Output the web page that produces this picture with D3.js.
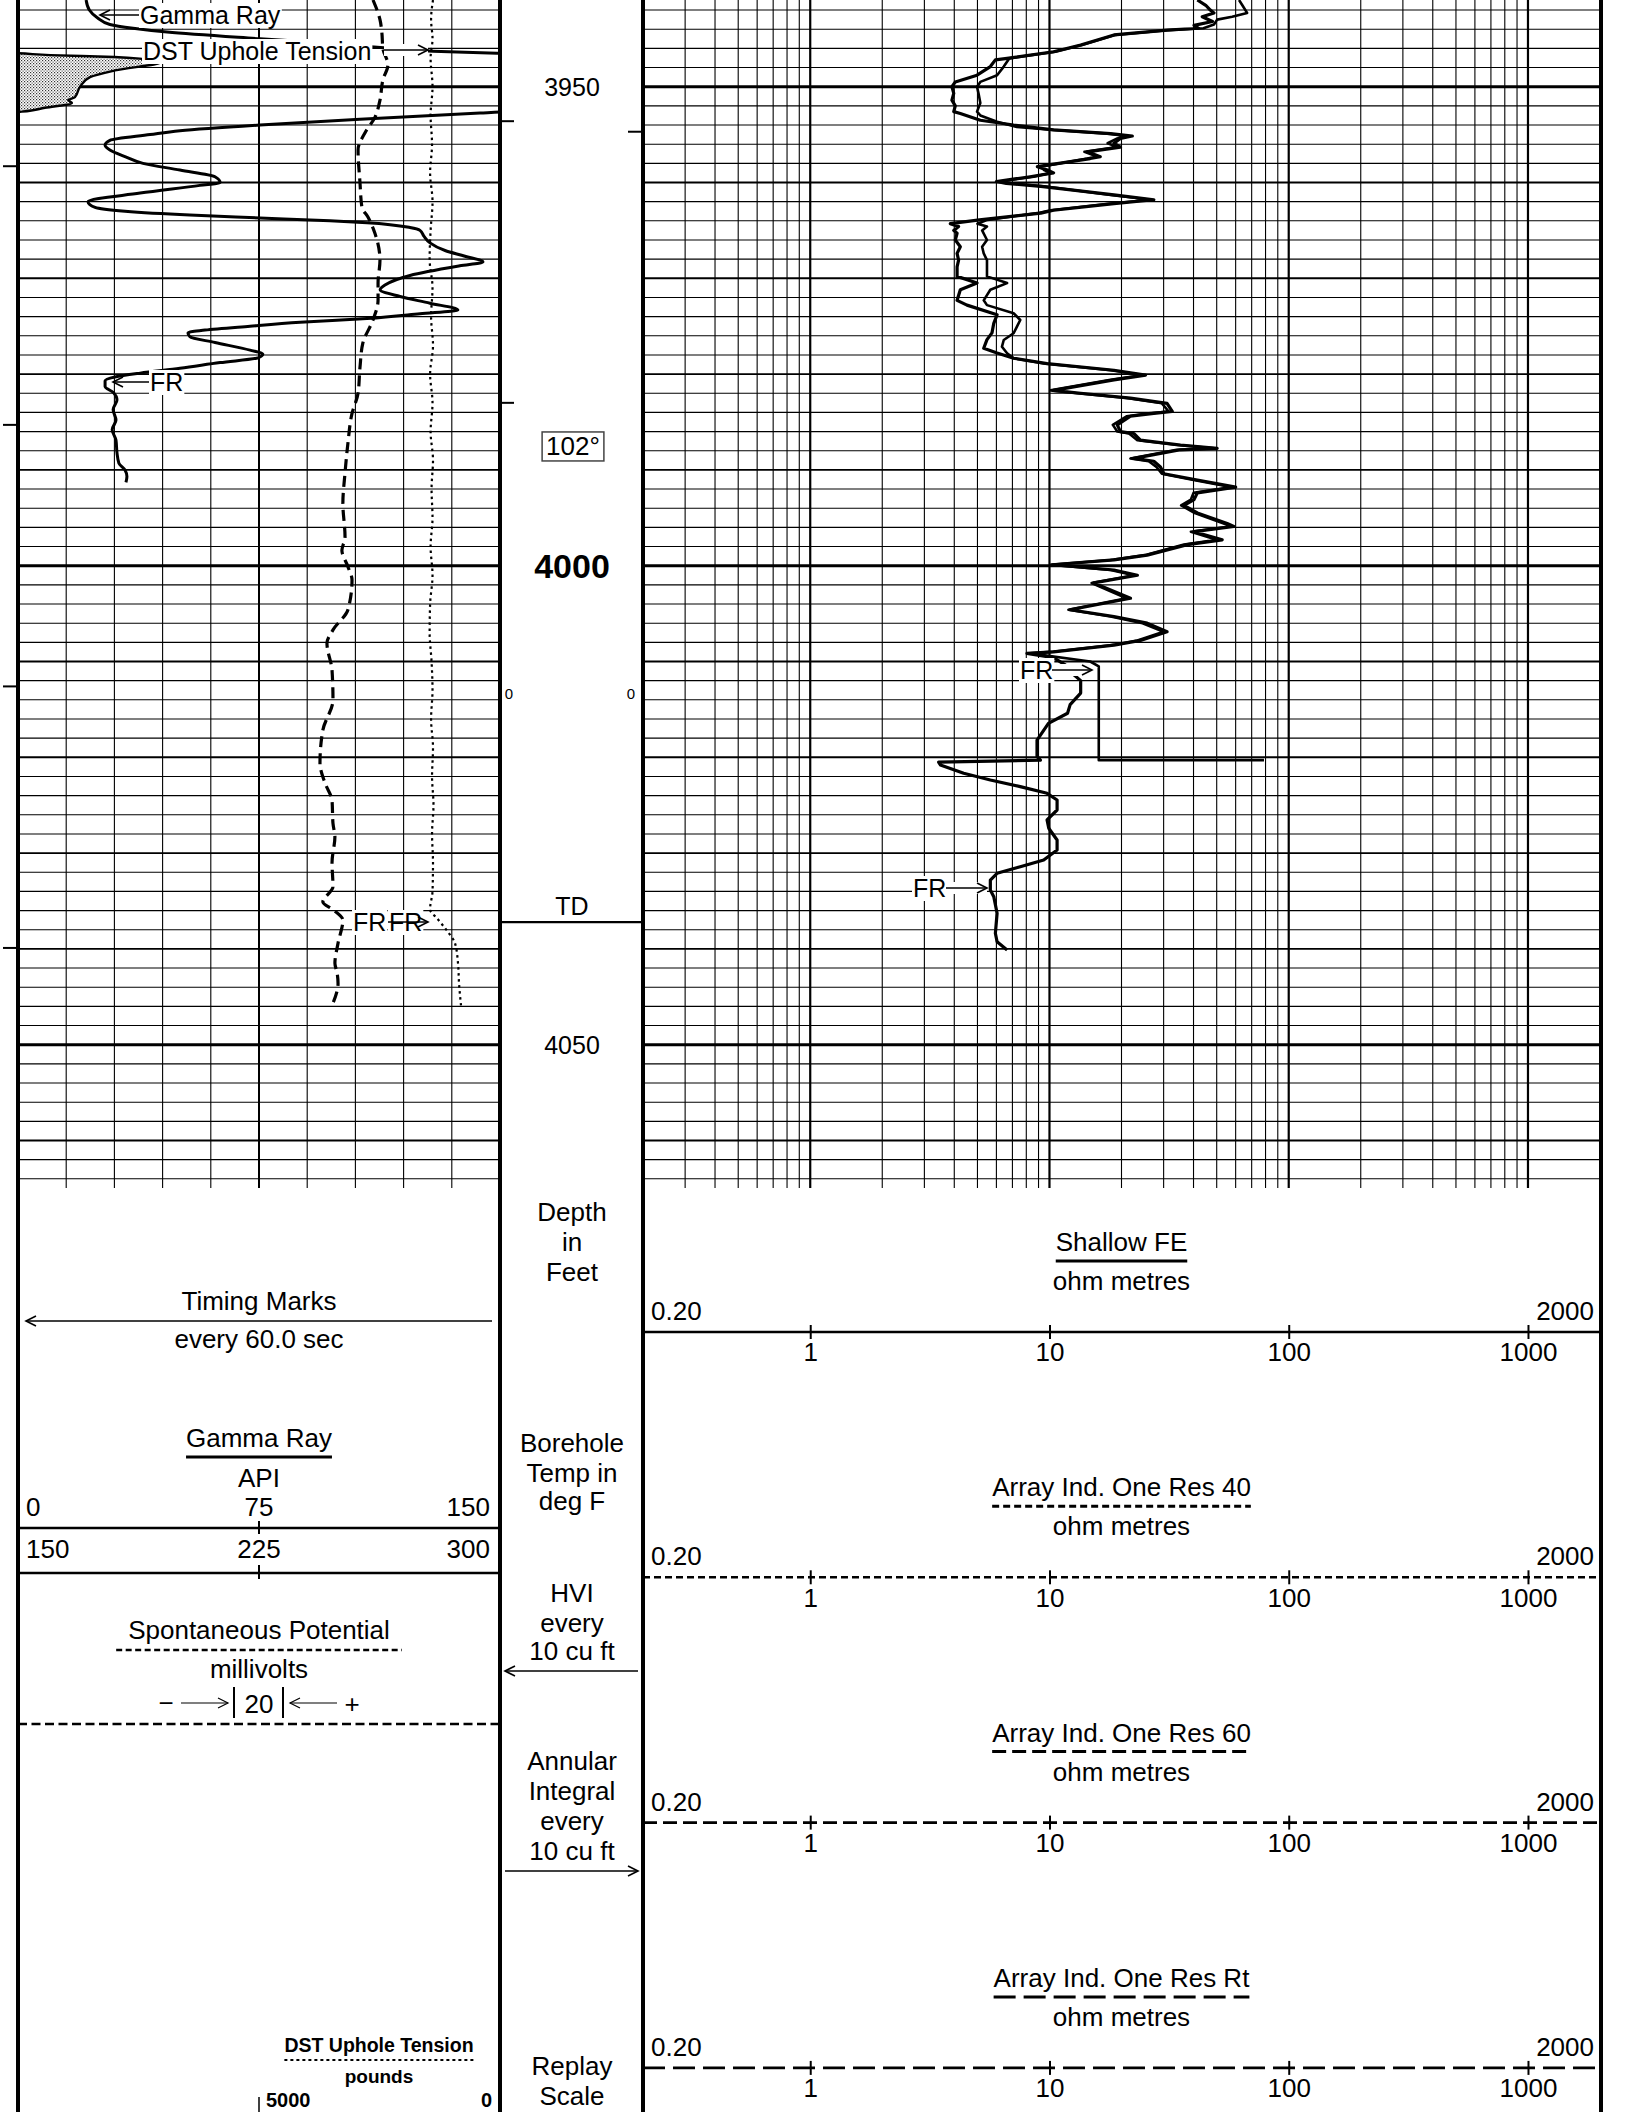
<!DOCTYPE html>
<html><head><meta charset="utf-8">
<script src="https://cdn.jsdelivr.net/npm/d3@7"></script>
<style>
body{margin:0;background:#fff}
svg{display:block}
text{font-family:"Liberation Sans",Arial,Helvetica,sans-serif;fill:#000}
</style>
</head><body>
<svg id="c" width="1627" height="2112"></svg>
<script>
// ---------------- DATA ----------------
// Gamma Ray [depth ft, API] (values >150 are drawn on the 150-300 backup scale)
const gammaRay = [[3940.95,21.2],[3942.0,22.2],[3942.8,24.7],[3943.5,28.6],[3943.9,35.8],[3944.3,46.4],[3945.0,75.3],[3945.5,98.0],[3945.96,114.8],[3946.3,129.2],[3946.5,149.1],[3946.7,160],[3946.9,180],[3947.1,188.9],[3947.4,194.8],[3948.3,180.2],[3949.0,172.4],[3950.0,169.3],[3951.1,167.7],[3951.4,165.6],[3951.7,166.8],[3952.2,158.4],[3952.6,151.2],[3952.75,143.8],[3953.4,106.4],[3954.0,75.3],[3954.6,50.4],[3955.0,41.1],[3955.6,28.6],[3956.1,27.1],[3956.6,28.6],[3957.3,33.3],[3958.0,38.9],[3958.7,50.4],[3959.4,61.3],[3960.0,62.9],[3960.3,56.6],[3961.1,38.0],[3962.0,21.8],[3962.6,24.0],[3963.0,33.3],[3963.4,53.5],[3963.7,75.3],[3964.0,97.1],[3964.2,108.6],[3964.7,122.0],[3965.0,125.1],[3965.6,126.3],[3966.3,128.2],[3967.1,132.9],[3967.7,139.1],[3968.3,144.7],[3968.7,137.5],[3969.7,122.0],[3970.7,114.2],[3971.2,112.7],[3971.9,118.9],[3972.6,128.2],[3973.3,136.9],[3973.7,125.1],[3974.2,108.6],[3974.6,87.8],[3975.0,72.2],[3975.4,58.2],[3975.7,52.9],[3976.1,53.5],[3976.7,61.3],[3977.5,72.2],[3977.9,76.2],[3978.3,74.7],[3978.8,62.9],[3979.4,50.4],[3979.9,38.0],[3980.3,30.2],[3980.7,27.1],[3981.3,27.1],[3981.9,29.6],[3982.7,30.8],[3983.7,29.6],[3984.8,30.5],[3985.8,29.3],[3986.9,30.5],[3988.2,30.8],[3989.3,31.4],[3990.0,33.3],[3990.7,33.9],[3991.3,33.6]];

// Spontaneous Potential [depth ft, mV]
const spontaneousPotential = [[3940.95,47.3],[3943.0,50.2],[3944.4,51.0],[3946.0,51.4],[3947.7,53.5],[3949.3,51.4],[3951.4,50.2],[3953.2,48.1],[3954.8,44.0],[3956.6,41.1],[3960.0,41.9],[3962.6,42.7],[3963.6,45.2],[3965.3,48.1],[3968.1,50.2],[3970.5,49.4],[3972.3,49.4],[3974.35,47.3],[3976.75,43.1],[3979.3,41.9],[3982.0,41.1],[3984.1,38.6],[3987.2,36.9],[3990.3,35.7],[3993.5,34.8],[3997.0,35.7],[3998.4,34.4],[4000.1,36.9],[4001.5,38.6],[4004.6,36.9],[4006.7,30.7],[4008.1,28.2],[4010.9,30.3],[4014.0,30.7],[4017.15,26.5],[4020.6,25.3],[4022.7,27.4],[4024.5,30.3],[4026.9,30.7],[4028.3,31.5],[4031.0,30.3],[4033.5,30.7],[4035.1,26.5],[4035.9,30.7],[4037.0,34.8],[4039.4,32.8],[4041.5,31.5],[4042.5,32.4],[4043.6,32.8],[4045.9,30.3]];

// DST Uphole Tension [depth ft, pounds]
const dstTension = [[3940.95,1390],[3943,1430],[3945,1400],[3947,1440],[3950,1400],[3953,1440],[3956,1410],[3959,1450],[3962,1400],[3965,1440],[3968,1460],[3971,1400],[3974,1430],[3977,1390],[3980,1450],[3983,1400],[3986,1440],[3989,1390],[3992,1420],[3995,1400],[3998,1440],[4001,1400],[4004,1450],[4007,1460],[4010,1420],[4013,1400],[4016,1430],[4019,1390],[4022,1410],[4025,1380],[4028,1410],[4031,1390],[4034,1400],[4035.9,1452],[4036.8,1307],[4038.1,1100],[4039.4,934],[4041.5,871],[4043.6,850],[4045.9,809]];

// Shallow FE [depth ft, ohm m]
const shallowFE = [[3940.95,41.5],[3941.5,45],[3942.0,47],[3942.3,48.7],[3942.7,43.5],[3943.2,48],[3943.6,40.2],[3943.9,42],[3944.1,31],[3944.6,18.6],[3945.65,13.5],[3946.35,10.4],[3947.04,6.65],[3947.2,5.94],[3947.9,5.66],[3948.8,4.98],[3949.5,4.04],[3950.0,3.91],[3950.7,3.98],[3951.4,3.91],[3952.0,4.04],[3952.6,3.98],[3952.8,4.24],[3953.5,5.14],[3954.0,7.08],[3954.5,10.4],[3954.9,18.0],[3955.15,22.2],[3955.4,19.8],[3955.9,18.6],[3956.3,19.8],[3956.8,14.4],[3957.3,16.3],[3957.5,14.8],[3958.35,8.9],[3958.7,9.8],[3959.0,10.4],[3959.4,8.3],[3959.9,6.0],[3960.1,6.6],[3960.4,9.2],[3961.3,18.6],[3961.8,27.3],[3962.2,18.6],[3962.9,10.4],[3963.2,9.2],[3963.9,5.1],[3964.3,3.85],[3964.6,4.17],[3965.0,3.98],[3965.3,4.11],[3966.0,4.04],[3966.7,4.24],[3967.4,4.11],[3968.1,4.17],[3968.8,4.11],[3969.8,4.11],[3970.5,4.98],[3971.2,4.24],[3972.3,4.11],[3972.8,4.52],[3973.8,6.04],[3974.7,5.85],[3975.7,5.75],[3976.4,5.48],[3977.3,5.31],[3977.8,6.04],[3978.35,7.08],[3978.9,9.77],[3979.6,18.6],[3980.1,25.2],[3980.6,18.6],[3981.7,10.4],[3982.0,13.5],[3982.5,21.8],[3983.05,31.0],[3983.9,32.6],[3984.1,27.3],[3984.4,21.8],[3985.3,19.2],[3986.0,19.8],[3986.2,22.5],[3986.9,24.0],[3987.4,35.3],[3987.75,50.2],[3987.9,35.3],[3988.8,22.5],[3989.1,27.3],[3989.7,29.1],[3990.4,30.1],[3991.05,41.5],[3991.8,60],[3992.4,41.5],[3993.1,40.2],[3993.7,36.5],[3994.5,41.5],[3995.6,55.3],[3995.9,59],[3996.45,40.2],[3997.3,52.7],[3997.8,37.7],[3998.9,25.6],[3999.4,18.6],[3999.9,10.25],[4000.45,18.6],[4001.0,23.3],[4001.8,15.3],[4003.4,21.8],[4004.6,12.2],[4005.3,18.6],[4006.0,25.6],[4006.9,31.0],[4007.8,24.0],[4008.3,18.6],[4009.0,10.4],[4009.15,8.05],[4009.6,10.4],[4010.5,11.9],[4011.2,12.4],[4012.0,13.5],[4013.3,13.5],[4014.5,12.2],[4015.4,11.9],[4016.45,9.9],[4018.2,8.87],[4019.9,8.87],[4020.3,9.16],[4020.5,3.44],[4020.8,3.5],[4021.67,4.38],[4022.37,5.66],[4023.06,7.55],[4023.76,9.77],[4024.46,10.76],[4025.5,10.76],[4026.54,9.77],[4027.41,9.93],[4028.63,10.76],[4029.68,10.76],[4030.72,9.46],[4031.42,7.55],[4032.11,6.04],[4032.81,5.66],[4033.85,5.66],[4034.55,5.85],[4036.28,6.04],[4038.37,5.94],[4039.25,6.04],[4040.11,6.65]];

// Array Induction One Res (40/60/Rt overlap) [depth ft, ohm m]
const arrayIndRes = [[3940.95,62],[3941.5,64],[3942.3,67],[3942.7,58],[3943.0,50.2],[3943.5,48.7],[3943.9,44],[3944.1,31],[3944.6,18.8],[3945.65,13.7],[3946.35,10.6],[3947.04,6.8],[3947.9,6.44],[3948.8,6.04],[3949.5,5.14],[3950.0,4.98],[3950.8,5.06],[3951.7,5.14],[3952.6,4.98],[3953.0,5.14],[3953.65,6.04],[3954.2,7.3],[3954.5,10.1],[3954.9,17.5],[3955.15,21.0],[3955.4,19.2],[3955.9,17.5],[3956.3,19.2],[3956.8,14.0],[3957.3,15.8],[3957.5,14.4],[3958.35,9.2],[3958.7,9.5],[3959.0,10.1],[3959.4,8.6],[3959.9,6.2],[3960.1,7.0],[3960.4,9.5],[3961.3,18.0],[3961.8,26.5],[3962.2,18.0],[3962.9,10.1],[3963.2,8.9],[3963.9,5.5],[3964.3,5.0],[3964.6,5.48],[3965.0,5.23],[3966.0,5.48],[3966.7,5.23],[3967.4,5.31],[3968.1,5.48],[3968.8,5.48],[3969.8,5.48],[3970.5,6.65],[3971.2,5.66],[3972.3,5.31],[3972.8,5.48],[3973.65,7.08],[3974.35,7.55],[3975.74,7.08],[3976.44,6.44],[3977.14,6.33],[3977.83,6.65],[3978.35,7.08],[3978.9,9.5],[3979.6,18.0],[3980.1,24.5],[3980.6,18.0],[3981.7,10.1],[3982.0,13.0],[3982.5,21.0],[3983.05,29.5],[3983.9,31.5],[3984.1,26.0],[3984.4,21.0],[3985.3,18.4],[3986.0,19.2],[3986.2,21.5],[3986.9,23.3],[3987.4,34.0],[3987.75,49.0],[3987.9,34.0],[3988.8,21.8],[3989.1,26.0],[3989.7,28.0],[3990.4,29.5],[3991.05,40.0],[3991.8,58.0],[3992.4,40.0],[3993.1,39.0],[3993.7,35.5],[3994.5,40.5],[3995.6,53.5],[3995.9,57.0],[3996.45,39.0],[3997.3,50.0],[3997.8,36.5],[3998.9,25.0],[3999.4,18.0],[3999.9,10.1],[4000.45,18.0],[4001.0,22.5],[4001.8,15.0],[4003.4,21.0],[4004.6,12.0],[4005.3,18.0],[4006.0,24.5],[4006.9,30.0],[4007.8,23.3],[4008.3,18.0],[4009.0,10.1],[4009.15,8.3],[4010.0,14.8],[4010.5,16.07],[4020.3,16.07],[4020.3,78.8]];

// depth annotations
const depthLabels = [3950, 4000, 4050];
const timingMarks = [3958.3, 3985.3, 4012.6, 4039.9];
const hviMarks = [3953.6, 3983.0];
const annularMarks = [3954.7];
const tdDepth = 4037.2;
const tempLabel = {depth: 3987.5, text: "102°"};
const resScaleTicks = [1, 10, 100, 1000];
const grScaleLabels1 = ["0", "75", "150"];
const grScaleLabels2 = ["150", "225", "300"];
const resHeaders = [
  {title: "Shallow FE", dash: null},
  {title: "Array Ind. One Res 40", dash: "7,4"},
  {title: "Array Ind. One Res 60", dash: "14,6"},
  {title: "Array Ind. One Res Rt", dash: "22,8"}
];

// ---------------- LAYOUT ----------------
const svg = d3.select("#c");
const L0 = 18, L1 = 500, R0 = 643, R1 = 1600;
const GRID_BOTTOM = 1188;
const y = d3.scaleLinear().domain([3950, 4050]).range([86.7, 1044.7]);
const grX = d3.scaleLinear().domain([0, 150]).range([L0, L1]);
const grBackX = d3.scaleLinear().domain([150, 300]).range([L0, L1]);
const spX = d3.scaleLinear().domain([-100, 100]).range([L0, L1]);
const tenX = d3.scaleLinear().domain([10000, 0]).range([L0, L1]);
const resX = d3.scaleLog().domain([0.2, 2000]).range([R0, R1]);

const defs = svg.append("defs");
defs.append("clipPath").attr("id", "clipL").append("rect").attr("x", L0).attr("y", 0).attr("width", L1 - L0).attr("height", GRID_BOTTOM);
defs.append("clipPath").attr("id", "clipR").append("rect").attr("x", R0).attr("y", 0).attr("width", R1 - R0).attr("height", GRID_BOTTOM);
const pat = defs.append("pattern").attr("id", "stip").attr("width", 3).attr("height", 3).attr("patternUnits", "userSpaceOnUse");
pat.append("rect").attr("width", 3).attr("height", 3).attr("fill", "#fff");
pat.append("rect").attr("width", 1.2).attr("height", 1.2).attr("fill", "#333");
pat.append("rect").attr("x", 1.5).attr("y", 1.5).attr("width", 1.2).attr("height", 1.2).attr("fill", "#555");

// ---------------- GRID ----------------
const gridG = svg.append("g");
const gridDepths = d3.range(3942, 4065, 2);
function hw(d) { return d % 50 === 0 ? 3 : (d % 10 === 0 ? 1.9 : 1.1); }
[[L0, L1], [R0, R1]].forEach(([a, b]) => {
  gridG.selectAll(null).data(gridDepths).enter().append("line")
    .attr("x1", a).attr("x2", b).attr("y1", d => y(d)).attr("y2", d => y(d))
    .attr("stroke", "#000").attr("stroke-width", hw);
});
// left linear verticals
gridG.selectAll(null).data(d3.range(15, 150, 15)).enter().append("line")
  .attr("x1", d => grX(d)).attr("x2", d => grX(d)).attr("y1", 0).attr("y2", GRID_BOTTOM)
  .attr("stroke", "#000").attr("stroke-width", d => d === 75 ? 2 : 1.1);
// right log verticals
const logTicks = resX.ticks().filter(v => v > 0.2 + 1e-9 && v < 2000 - 1e-6);
gridG.selectAll(null).data(logTicks).enter().append("line")
  .attr("x1", d => resX(d)).attr("x2", d => resX(d)).attr("y1", 0).attr("y2", GRID_BOTTOM)
  .attr("stroke", "#000").attr("stroke-width", d => resScaleTicks.includes(d) ? 2.2 : 1.1);

// ---------------- CURVES ----------------
const curvesL = svg.append("g").attr("clip-path", "url(#clipL)");
// backup GR shading
const backup = gammaRay.filter(d => d[0] >= 3946.3 && d[0] <= 3952.75);
curvesL.append("path").datum(backup)
  .attr("d", d3.area().y(d => y(d[0])).x0(L0).x1(d => grBackX(d[1])).curve(d3.curveMonotoneY))
  .attr("fill", "url(#stip)").attr("stroke", "none");
curvesL.append("path").datum(backup)
  .attr("d", d3.line().y(d => y(d[0])).x(d => grBackX(d[1])).curve(d3.curveMonotoneY))
  .attr("fill", "none").attr("stroke", "#000").attr("stroke-width", 2.4);
// GR main
curvesL.append("path").datum(gammaRay)
  .attr("d", d3.line().y(d => y(d[0])).x(d => grX(d[1])).curve(d3.curveMonotoneY))
  .attr("fill", "none").attr("stroke", "#000").attr("stroke-width", 3);
// SP
curvesL.append("path").datum(spontaneousPotential)
  .attr("d", d3.line().y(d => y(d[0])).x(d => spX(d[1])).curve(d3.curveMonotoneY))
  .attr("fill", "none").attr("stroke", "#000").attr("stroke-width", 3.2).attr("stroke-dasharray", "11,6");
// Tension
curvesL.append("path").datum(dstTension)
  .attr("d", d3.line().y(d => y(d[0])).x(d => tenX(d[1])).curve(d3.curveMonotoneY))
  .attr("fill", "none").attr("stroke", "#000").attr("stroke-width", 2.2).attr("stroke-dasharray", "2.5,3.5");

const curvesR = svg.append("g").attr("clip-path", "url(#clipR)");
curvesR.append("path").datum(arrayIndRes)
  .attr("d", d3.line().y(d => y(d[0])).x(d => resX(d[1])))
  .attr("fill", "none").attr("stroke", "#000").attr("stroke-width", 2.6).attr("stroke-linejoin", "round");
curvesR.append("path").datum(shallowFE)
  .attr("d", d3.line().y(d => y(d[0])).x(d => resX(d[1])))
  .attr("fill", "none").attr("stroke", "#000").attr("stroke-width", 3.2).attr("stroke-linejoin", "round");

// ---------------- HELPERS ----------------
function txt(g, x, yy, s, o = {}) {
  const t = g.append("text").attr("x", x).attr("y", yy).text(s)
    .attr("font-size", o.size || 26).attr("font-weight", o.weight || "normal")
    .attr("text-anchor", o.anchor || "start");
  if (o.bg) {
    const b = t.node().getBBox();
    g.insert("rect", () => t.node()).attr("x", b.x - 1).attr("y", b.y + 2)
      .attr("width", b.width + 2).attr("height", b.height - 3).attr("fill", "#fff");
  }
  return t;
}
function arrow(g, x1, yy, x2, w = 1.6, bg = false) {
  if (bg) g.append("rect").attr("x", Math.min(x1, x2)).attr("y", yy - 6).attr("width", Math.abs(x2 - x1)).attr("height", 12).attr("fill", "#fff");
  g.append("line").attr("x1", x1).attr("x2", x2).attr("y1", yy).attr("y2", yy).attr("stroke", "#000").attr("stroke-width", w);
  const dir = Math.sign(x2 - x1);
  g.append("path").attr("d", `M${x2 - dir * 10},${yy - 5}L${x2},${yy}L${x2 - dir * 10},${yy + 5}`)
    .attr("fill", "none").attr("stroke", "#000").attr("stroke-width", w);
}
function hline(g, x1, x2, yy, w, dash) {
  const l = g.append("line").attr("x1", x1).attr("x2", x2).attr("y1", yy).attr("y2", yy)
    .attr("stroke", "#000").attr("stroke-width", w);
  if (dash) l.attr("stroke-dasharray", dash);
  return l;
}

// ---------------- IN-TRACK LABELS ----------------
const lab = svg.append("g");
txt(lab, 140, 24, "Gamma Ray", {bg: true, size: 25});
arrow(lab, 139, 15, 100);
txt(lab, 143, 60, "DST Uphole Tension", {bg: true, size: 25});
arrow(lab, 384, 50, 428, 1.6, true);
// FR markers
txt(lab, 150, 391, "FR", {bg: true, size: 25});
arrow(lab, 149, 382, 113);
txt(lab, 353, 931, "FR", {bg: true, size: 25});
txt(lab, 389, 931, "FR", {bg: true, size: 25});
arrow(lab, 388, 922, 428);
txt(lab, 1020, 679, "FR", {bg: true, size: 25});
arrow(lab, 1052, 670, 1092, 1.6, true);
txt(lab, 913, 897, "FR", {bg: true, size: 25});
arrow(lab, 946, 888, 987, 1.6, true);

// ---------------- DEPTH TRACK ----------------
const dt = svg.append("g");
const DC = (L1 + R0) / 2 + 0.5;
depthLabels.forEach(d => {
  const big = d % 100 === 0;
  txt(dt, DC, y(d) + (big ? 12 : 9), d, {anchor: "middle", size: big ? 34 : 25, weight: big ? "bold" : "normal"});
});
const tl = txt(dt, DC + 1, y(tempLabel.depth) + 9, tempLabel.text, {anchor: "middle", size: 26});
{
  const b = tl.node().getBBox();
  dt.append("rect").attr("x", b.x - 4).attr("y", b.y + 1).attr("width", b.width + 8).attr("height", b.height - 1)
    .attr("fill", "none").attr("stroke", "#444").attr("stroke-width", 1.5);
}
txt(dt, 509, y(4013.3) + 6, "0", {anchor: "middle", size: 15});
txt(dt, 631, y(4013.3) + 6, "0", {anchor: "middle", size: 15});
hline(dt, L1, R0, y(tdDepth), 2.2);
txt(dt, DC, y(tdDepth) - 7, "TD", {anchor: "middle", size: 25});
timingMarks.forEach(d => hline(dt, 3, L0, y(d), 2));
hviMarks.forEach(d => hline(dt, L1, L1 + 14, y(d), 2));
annularMarks.forEach(d => hline(dt, R0 - 15, R0, y(d), 2));

// ---------------- HEADERS ----------------
const hd = svg.append("g");
const LC = (L0 + L1) / 2;
// Depth track header
[["Depth", 1221], ["in", 1251], ["Feet", 1281], ["Borehole", 1452], ["Temp in", 1482], ["deg F", 1510],
 ["HVI", 1602], ["every", 1632], ["10 cu ft", 1660], ["Annular", 1770], ["Integral", 1800], ["every", 1830],
 ["10 cu ft", 1860], ["Replay", 2075], ["Scale", 2105]].forEach(([s, yy]) => txt(hd, DC, yy, s, {anchor: "middle"}));
arrow(hd, 638, 1671, 505);
arrow(hd, 505, 1871, 638);

// Timing marks
txt(hd, LC, 1310, "Timing Marks", {anchor: "middle"});
arrow(hd, 492, 1321, 26);
txt(hd, LC, 1348, "every 60.0 sec", {anchor: "middle"});

// Gamma Ray header
const grT = txt(hd, LC, 1447, "Gamma Ray", {anchor: "middle"});
{ const w = grT.node().getComputedTextLength(); hline(hd, LC - w / 2, LC + w / 2, 1457, 3); }
txt(hd, LC, 1487, "API", {anchor: "middle"});
txt(hd, grX(0) + 8, 1516, grScaleLabels1[0]);
txt(hd, grX(75), 1516, grScaleLabels1[1], {anchor: "middle"});
txt(hd, grX(150) - 10, 1516, grScaleLabels1[2], {anchor: "end"});
hline(hd, L0, L1, 1528, 2.6);
hd.append("line").attr("x1", grX(75)).attr("x2", grX(75)).attr("y1", 1521).attr("y2", 1534).attr("stroke", "#000").attr("stroke-width", 2);
txt(hd, grBackX(150) + 8, 1558, grScaleLabels2[0]);
txt(hd, grBackX(225), 1558, grScaleLabels2[1], {anchor: "middle"});
txt(hd, grBackX(300) - 10, 1558, grScaleLabels2[2], {anchor: "end"});
hline(hd, L0, L1, 1573, 2.6);
hd.append("line").attr("x1", grX(75)).attr("x2", grX(75)).attr("y1", 1565).attr("y2", 1579).attr("stroke", "#000").attr("stroke-width", 2);

// SP header
const spT = txt(hd, LC, 1639, "Spontaneous Potential", {anchor: "middle"});
{ const w = spT.node().getComputedTextLength(); hline(hd, LC - w / 2 - 12, LC + w / 2 + 12, 1650, 2.4, "6,3.5"); }
txt(hd, LC, 1678, "millivolts", {anchor: "middle"});
txt(hd, 166, 1712, "−", {anchor: "middle"});
arrow(hd, 181, 1703, 228, 1.2);
hd.append("line").attr("x1", 234).attr("x2", 234).attr("y1", 1687).attr("y2", 1718).attr("stroke", "#000").attr("stroke-width", 2);
txt(hd, LC, 1713, "20", {anchor: "middle"});
hd.append("line").attr("x1", 283).attr("x2", 283).attr("y1", 1687).attr("y2", 1718).attr("stroke", "#000").attr("stroke-width", 2);
arrow(hd, 337, 1703, 290, 1.2);
txt(hd, 352, 1713, "+", {anchor: "middle"});
hline(hd, L0, L1, 1724, 2.6, "9,4.5");

// DST Uphole Tension header
const dstC = 379;
const dT = txt(hd, dstC, 2052, "DST Uphole Tension", {anchor: "middle", size: 19.5, weight: "bold"});
{ const w = dT.node().getComputedTextLength(); hline(hd, dstC - w / 2, dstC + w / 2, 2060, 2, "3,3"); }
txt(hd, dstC, 2083, "pounds", {anchor: "middle", size: 19, weight: "bold"});
txt(hd, tenX(5000) + 7, 2107, "5000", {size: 20, weight: "bold"});
hd.append("line").attr("x1", tenX(5000)).attr("x2", tenX(5000)).attr("y1", 2097).attr("y2", 2112).attr("stroke", "#000").attr("stroke-width", 1.5);
txt(hd, tenX(0) - 8, 2107, "0", {anchor: "end", size: 20, weight: "bold"});

// Resistivity headers
const RC = (R0 + R1) / 2;
resHeaders.forEach((h, i) => {
  const base = 1251 + i * 245.3;
  const t = txt(hd, RC, base, h.title, {anchor: "middle"});
  const w = t.node().getComputedTextLength();
  hline(hd, RC - w / 2, RC + w / 2, base + 10, 3, h.dash);
  txt(hd, RC, base + 39, "ohm metres", {anchor: "middle"});
  txt(hd, R0 + 8, base + 69, "0.20");
  txt(hd, R1 - 6, base + 69, "2000", {anchor: "end"});
  const ly = base + 81;
  hline(hd, R0, R1, ly, 2.6, h.dash);
  const ax = hd.append("g").attr("transform", `translate(0,${ly})`)
    .call(d3.axisBottom(resX).tickValues(resScaleTicks).tickFormat(d3.format("d")).tickSize(7).tickPadding(4));
  ax.attr("font-size", 26).attr("font-family", "Liberation Sans, Arial, sans-serif");
  ax.select(".domain").remove();
  ax.selectAll(".tick line").attr("y1", -7).attr("stroke", "#000").attr("stroke-width", 2);
  ax.selectAll(".tick text").attr("fill", "#000");
});

// ---------------- TRACK BORDERS ----------------
const bd = svg.append("g");
[L0, L1, R0, R1 + 1].forEach(x => bd.append("line").attr("x1", x).attr("x2", x).attr("y1", 0).attr("y2", 2112)
  .attr("stroke", "#000").attr("stroke-width", 4));
</script>
</body></html>
